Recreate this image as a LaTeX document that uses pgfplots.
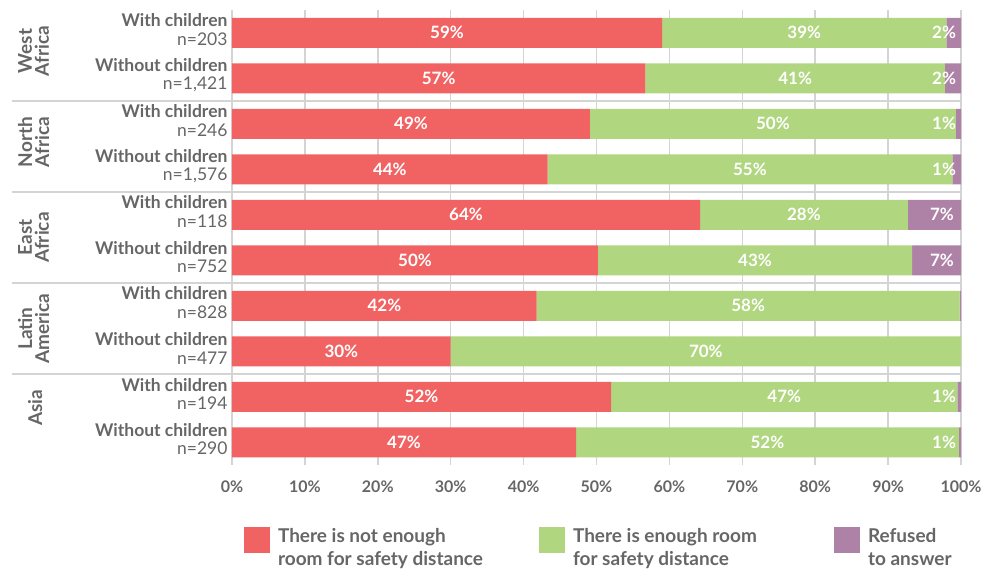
\documentclass[border=0pt]{standalone}
\usepackage{fontspec}
\setmainfont{Lato}
\usepackage{pgfplots}
\pgfplotsset{compat=1.18}
\definecolor{cRed}{HTML}{F16363}
\definecolor{cGreen}{HTML}{B0D680}
\definecolor{cPurple}{HTML}{AE82A6}
\definecolor{txt}{HTML}{666666}
\definecolor{gridc}{HTML}{D4D4D4}
\tikzset{vl/.style={font=\bfseries\fontsize{17}{17}\selectfont, text=white},
  gl/.style={rotate=90, font=\bfseries\fontsize{19}{17}\selectfont, text=txt, align=center}}
\newcommand{\chartlabels}{%
% group separators
\draw[gridc, line width=2pt] (axis cs:-30.2,2.5) -- (axis cs:100,2.5);
\draw[gridc, line width=2pt] (axis cs:-30.2,4.5) -- (axis cs:100,4.5);
\draw[gridc, line width=2pt] (axis cs:-30.2,6.5) -- (axis cs:100,6.5);
\draw[gridc, line width=2pt] (axis cs:-30.2,8.5) -- (axis cs:100,8.5);
% group labels
\node[gl] at (axis cs:-27.2,1.4) {West\\Africa};
\node[gl] at (axis cs:-27.2,3.4) {North\\Africa};
\node[gl] at (axis cs:-27.2,5.5) {East\\Africa};
\node[gl] at (axis cs:-27.2,7.5) {Latin\\America};
\node[gl] at (axis cs:-27.0,9.24) {Asia};
% value labels
\node[vl] at (axis cs:29.5,1) {59\%};
\node[vl] at (axis cs:78.5,1) {39\%};
\node[vl, anchor=east] at (axis cs:99.8,1) {2\%};
\node[vl] at (axis cs:28.35,2) {57\%};
\node[vl] at (axis cs:77.25,2) {41\%};
\node[vl, anchor=east] at (axis cs:99.8,2) {2\%};
\node[vl] at (axis cs:24.55,3) {49\%};
\node[vl] at (axis cs:74.2,3) {50\%};
\node[vl, anchor=east] at (axis cs:99.8,3) {1\%};
\node[vl] at (axis cs:21.65,4) {44\%};
\node[vl] at (axis cs:71.05,4) {55\%};
\node[vl, anchor=east] at (axis cs:99.8,4) {1\%};
\node[vl] at (axis cs:32.1,5) {64\%};
\node[vl] at (axis cs:78.45,5) {28\%};
\node[vl, anchor=east] at (axis cs:99.5,5) {7\%};
\node[vl] at (axis cs:25.1,6) {50\%};
\node[vl] at (axis cs:71.75,6) {43\%};
\node[vl, anchor=east] at (axis cs:99.5,6) {7\%};
\node[vl] at (axis cs:20.9,7) {42\%};
\node[vl] at (axis cs:70.8,7) {58\%};
\node[vl] at (axis cs:15,8) {30\%};
\node[vl] at (axis cs:65,8) {70\%};
\node[vl] at (axis cs:26,9) {52\%};
\node[vl] at (axis cs:75.75,9) {47\%};
\node[vl, anchor=east] at (axis cs:99.8,9) {1\%};
\node[vl] at (axis cs:23.6,10) {47\%};
\node[vl] at (axis cs:73.45,10) {52\%};
\node[vl, anchor=east] at (axis cs:99.8,10) {1\%};
}
\begin{document}
\begin{tikzpicture}
\useasboundingbox (-232pt,-106pt) rectangle (758pt,465pt);
\begin{axis}[
  at={(0pt,0pt)}, anchor=south west,
  xbar stacked, bar width=30pt,
  scale only axis, width=729pt, height=455pt,
  xmin=0, xmax=100, ymin=0.5, ymax=10.5, y dir=reverse,
  clip=false,
  axis line style={draw=none},
  major tick length=0pt,
  xmajorgrids, grid style={color=gridc, line width=1.5pt},
  xtick={0,10,...,100},
  /pgf/number format/assume math mode=true,
  xticklabel={\pgfmathprintnumber{\tick}\%},
  xticklabel style={font=\bfseries\fontsize{16}{18}\selectfont, text=txt, yshift=-12pt},
  ytick={1,...,10},
  yticklabel style={font=\fontsize{17.5}{18.5}\selectfont, text=txt, align=right, xshift=-1pt, yshift=3pt},
  yticklabels={
    {\textbf{With children}\\n=203},
    {\textbf{Without children}\\n=1,421},
    {\textbf{With children}\\n=246},
    {\textbf{Without children}\\n=1,576},
    {\textbf{With children}\\n=118},
    {\textbf{Without children}\\n=752},
    {\textbf{With children}\\n=828},
    {\textbf{Without children}\\n=477},
    {\textbf{With children}\\n=194},
    {\textbf{Without children}\\n=290}},
  legend columns=3,
  legend style={draw=none, fill=none, inner sep=0pt, outer sep=0pt,
    at={(rel axis cs:0.0165,-0.134)}, anchor=north west,
    font=\bfseries\fontsize{19}{23}\selectfont, text=txt,
    /tikz/every odd column/.append style={column sep=8pt},
    /tikz/every even column/.append style={column sep=8pt},
    nodes={inner sep=0pt}},
  legend image code/.code={\fill[#1] (0pt,-13pt) rectangle (26pt,13pt);},
  after end axis/.code={\chartlabels},
]
\addplot[fill=cRed, draw=none] coordinates {
 (59,1) (56.7,2) (49.1,3) (43.3,4) (64.2,5) (50.2,6) (41.8,7) (30,8) (52,9) (47.2,10)};
\addlegendentry{\makebox[253pt][l]{\begin{tabular}{@{}l@{}}There is not enough\\room for safety distance\end{tabular}}}
\addplot[fill=cGreen, draw=none] coordinates {
 (39,1) (41.1,2) (50.2,3) (55.5,4) (28.5,5) (43.1,6) (58.0,7) (70,8) (47.5,9) (52.5,10)};
\addlegendentry{\makebox[253pt][l]{\begin{tabular}{@{}l@{}}There is enough room\\for safety distance\end{tabular}}}
\addplot[fill=cPurple, draw=none] coordinates {
 (2,1) (2.2,2) (0.7,3) (1.2,4) (7.3,5) (6.7,6) (0.2,7) (0,8) (0.5,9) (0.3,10)};
\addlegendentry{\begin{tabular}{@{}l@{}}Refused\\to answer\end{tabular}}
\end{axis}
\end{tikzpicture}
\end{document}
